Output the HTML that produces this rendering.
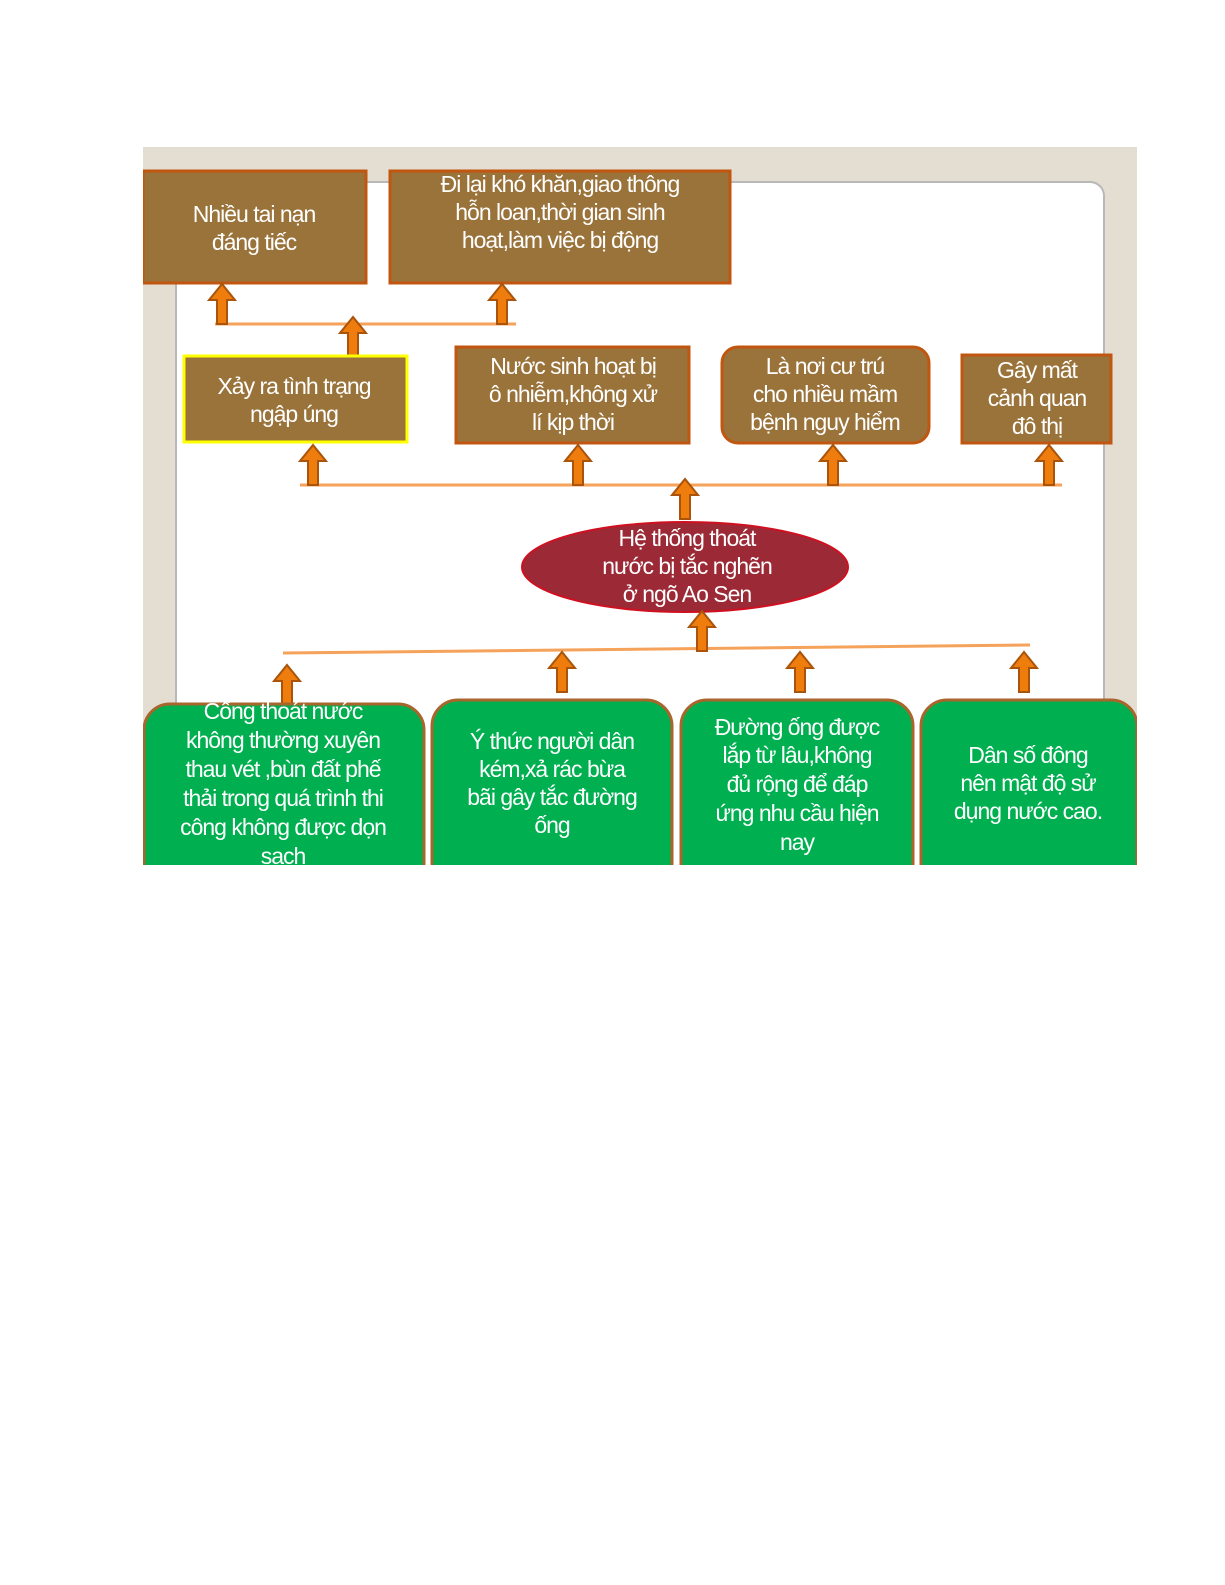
<!DOCTYPE html>
<html><head><meta charset="utf-8"><style>
html,body{margin:0;padding:0;background:#fff;}
svg{display:block;}
text{font-family:"Liberation Sans",sans-serif;font-size:23px;fill:#fff;text-anchor:middle;letter-spacing:-1px;}
</style></head><body>
<svg width="1225" height="1585" viewBox="0 0 1225 1585" xmlns="http://www.w3.org/2000/svg">
<defs>
<clipPath id="c"><rect x="143" y="147" width="994" height="718"/></clipPath>
<g id="ar"><path d="M-5,0 V-24 H-13 L0,-40 L13,-24 H5 V0 Z" fill="#ee7d0e" stroke="#a9540a" stroke-width="2"/></g>
</defs>
<g clip-path="url(#c)">
<rect x="143" y="147" width="994" height="718" fill="#e3ddd2"/>
<rect x="176" y="182" width="928" height="720" rx="14" fill="#fff" stroke="#b8b8b8" stroke-width="2"/>

<g stroke="#f5a25a" stroke-width="3" fill="none">
<line x1="215" y1="324" x2="516" y2="324"/>
<line x1="300" y1="485" x2="1062" y2="485"/>
<line x1="283" y1="653" x2="1030" y2="645"/>
</g>

<rect x="143" y="171" width="223" height="112" fill="#9a733b" stroke="#c0560f" stroke-width="3"/>
<text x="254" y="222">Nhiều tai nạn</text><text x="254" y="250">đáng tiếc</text>
<rect x="390" y="171" width="340" height="112" fill="#9a733b" stroke="#c0560f" stroke-width="3"/>
<text x="560" y="192">Đi lại khó khăn,giao thông</text>
<text x="560" y="220">hỗn loan,thời gian sinh</text>
<text x="560" y="248">hoạt,làm việc bị động</text>

<use href="#ar" x="222" y="324"/>
<use href="#ar" x="502" y="324"/>
<use href="#ar" x="353" y="357"/>

<rect x="184" y="356" width="223" height="86" fill="#9a733b" stroke="#ffff00" stroke-width="3"/>
<text x="294" y="394">Xảy  ra tình trạng</text><text x="294" y="422">ngập úng</text>
<rect x="456" y="347" width="233" height="96" fill="#9a733b" stroke="#c0560f" stroke-width="3"/>
<text x="573" y="374">Nước sinh hoạt bị</text><text x="573" y="402">ô nhiễm,không xử</text><text x="573" y="430">lí kịp thời</text>
<rect x="722" y="347" width="207" height="96" rx="16" fill="#9a733b" stroke="#c0560f" stroke-width="3"/>
<text x="825" y="374">Là nơi cư trú</text><text x="825" y="402">cho nhiều mầm</text><text x="825" y="430">bệnh nguy hiểm</text>
<rect x="962" y="355" width="149" height="88" fill="#9a733b" stroke="#c0560f" stroke-width="3"/>
<text x="1037" y="378">Gây mất</text><text x="1037" y="406">cảnh quan</text><text x="1037" y="434">đô thị</text>

<use href="#ar" x="313" y="485"/>
<use href="#ar" x="578" y="485"/>
<use href="#ar" x="833" y="485"/>
<use href="#ar" x="1049" y="485"/>
<use href="#ar" x="685" y="519"/>

<ellipse cx="685" cy="567" rx="163" ry="45" fill="#9c2a36" stroke="#d01020" stroke-width="2"/>
<text x="687" y="546">Hệ thống thoát</text><text x="687" y="574">nước bị tắc nghẽn</text><text x="687" y="602">ở ngõ Ao Sen</text>

<use href="#ar" x="702" y="651"/>
<use href="#ar" x="287" y="705"/>
<use href="#ar" x="562" y="692"/>
<use href="#ar" x="800" y="692"/>
<use href="#ar" x="1024" y="692"/>

<g fill="#00b050" stroke="#a8652c" stroke-width="3">
<rect x="144" y="704" width="280" height="200" rx="26"/>
<rect x="432" y="700" width="240" height="200" rx="26"/>
<rect x="681" y="700" width="232" height="200" rx="26"/>
<rect x="921" y="700" width="216" height="200" rx="26"/>
</g>
<text x="283" y="719">Cống thoát nước</text>
<text x="283" y="748">không thường xuyên</text>
<text x="283" y="777">thau vét ,bùn đất phế</text>
<text x="283" y="806">thải trong quá trình thi</text>
<text x="283" y="835">công không được dọn</text>
<text x="283" y="864">sach</text>
<text x="552" y="749">Ý thức người dân</text>
<text x="552" y="777">kém,xả rác bừa</text>
<text x="552" y="805">bãi gây tắc đường</text>
<text x="552" y="833">ống</text>
<text x="797" y="735">Đường ống được</text>
<text x="797" y="763">lắp từ lâu,không</text>
<text x="797" y="792">đủ rộng để đáp</text>
<text x="797" y="821">ứng nhu cầu hiện</text>
<text x="797" y="850">nay</text>
<text x="1028" y="763">Dân số đông</text>
<text x="1028" y="791">nên mật độ sử</text>
<text x="1028" y="819">dụng nước cao.</text>
</g>
</svg>
</body></html>
